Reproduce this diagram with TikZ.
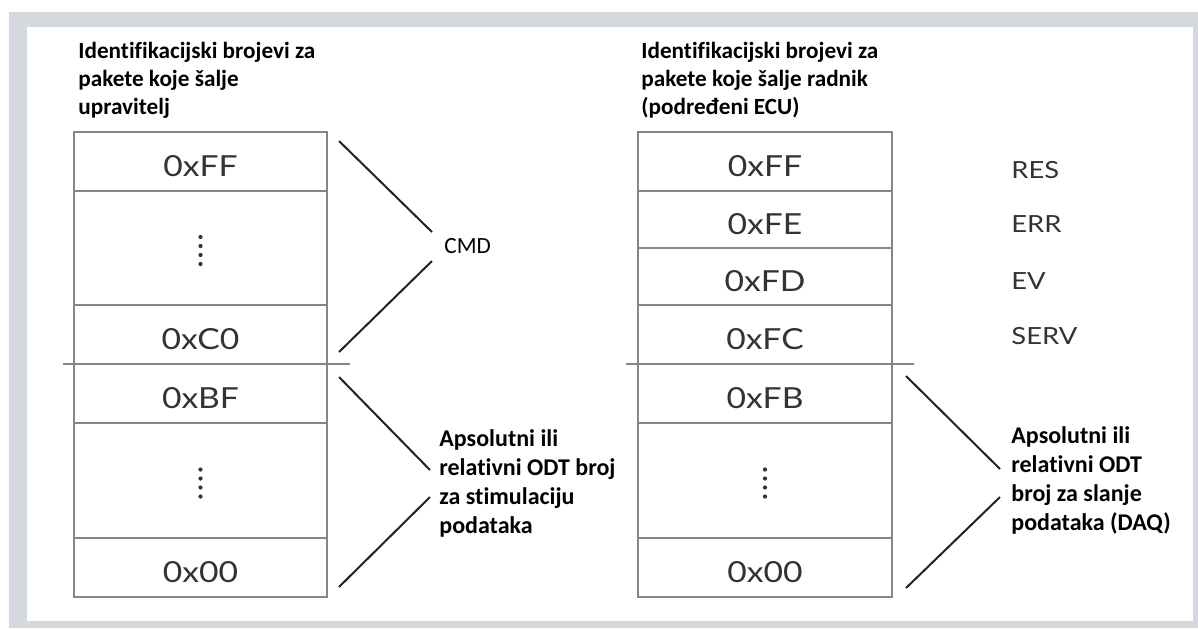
\documentclass[tikz,border=0pt]{standalone}
\usepackage{fontspec}
\setmainfont{Carlito}[Ligatures=NoCommon]
\newfontfamily\hexfont{Lato}[FakeStretch=1.16]
\definecolor{framegray}{HTML}{D5D9DF}
\definecolor{boxgray}{HTML}{80888D}
\definecolor{txtgray}{HTML}{333333}
\definecolor{linedark}{HTML}{222222}
\begin{document}
\begin{tikzpicture}[x=0.5pt,y=-0.5pt,
  cell/.style={draw=boxgray, line width=1.1pt, inner sep=0pt},
  lcell/.style={cell, minimum width=126.5pt},
  rcell/.style={cell, minimum width=127pt},
  hex/.style={inner sep=0pt, yshift=-2.2pt, text=txtgray, font=\hexfont\fontsize{14.5}{16}\selectfont},
  sepline/.style={draw=boxgray, line width=1.1pt},
  conn/.style={draw=linedark, line width=1pt},
  title/.style={anchor=west, align=left, inner sep=0pt, font=\bfseries\fontsize{11.6}{14}\selectfont},
  lbl/.style={anchor=west, align=left, inner sep=0pt, font=\bfseries\fontsize{12}{14.5}\selectfont},
  side/.style={anchor=west, inner sep=0pt, text=txtgray, font=\hexfont\fontsize{11.8}{14}\selectfont},
  dot/.style={fill=txtgray}]
\useasboundingbox (0,0) rectangle (1198,629);
\fill[white] (0,0) rectangle (1198,629);
\fill[framegray] (9,12) rectangle (1198,628);
\fill[white] (27,27) rectangle (1193,621);

% left column
\node[lcell, minimum height=29.5pt] (L1) at (200.5,161.5) {};
\node[lcell, minimum height=57pt]   (L2) at (200.5,248) {};
\node[lcell, minimum height=29.5pt] (L3) at (200.5,334.5) {};
\node[lcell, minimum height=29.5pt] (L4) at (200.5,393.5) {};
\node[lcell, minimum height=57.5pt] (L5) at (200.5,480.5) {};
\node[lcell, minimum height=29.5pt] (L6) at (200.5,567.5) {};
\node[hex] (L1t) at (L1.center) {0xFF};
\node[hex] (L3t) at (L3.center) {0xC0};
\node[hex] (L4t) at (L4.center) {0xBF};
\node[hex] (L6t) at (L6.center) {0x00};

% right column
\node[rcell, minimum height=29.5pt] (R1) at (765,161.5) {};
\node[rcell, minimum height=28.5pt] (R2) at (765,219.5) {};
\node[rcell, minimum height=28.5pt] (R3) at (765,276.5) {};
\node[rcell, minimum height=29.5pt] (R4) at (765,334.5) {};
\node[rcell, minimum height=29.5pt] (R5) at (765,393.5) {};
\node[rcell, minimum height=57.5pt] (R6) at (765,480.5) {};
\node[rcell, minimum height=29.5pt] (R7) at (765,567.5) {};
\node[hex] (R1t) at (R1.center) {0xFF};
\node[hex] (R2t) at (R2.center) {0xFE};
\node[hex] (R3t) at (R3.center) {0xFD};
\node[hex] (R4t) at (R4.center) {0xFC};
\node[hex] (R5t) at (R5.center) {0xFB};
\node[hex] (R7t) at (R7.center) {0x00};

% vertical ellipses
\foreach \d in {-11,-2,7,16} {
  \fill[dot] (L2.center) ++(0,\d) circle[radius=2.1];
  \fill[dot] (L5.center) ++(0,\d) circle[radius=2.1];
  \fill[dot] (R6.center) ++(0,\d) circle[radius=2.1];
}

% separators
\coordinate (sLa) at (63,364);
\coordinate (sLb) at (350,364);
\coordinate (sRa) at (626,364);
\coordinate (sRb) at (914,364);
\draw[sepline] (sLa) -- (sLb);
\draw[sepline] (sRa) -- (sRb);

% titles
\node[title] (tL) at (78,80) {Identifikacijski brojevi za\\pakete koje šalje\\upravitelj};
\node[title] (tR) at (641,80) {Identifikacijski brojevi za\\pakete koje šalje radnik\\(podređeni ECU)};

% CMD brace
\node[anchor=west, inner sep=0pt, font=\fontsize{11.6}{14}\selectfont] (cmd) at (444,246) {CMD};
\coordinate (c1a) at (339,141);
\coordinate (c1b) at (432,232);
\coordinate (c2a) at (432,261);
\coordinate (c2b) at (339,352);
\draw[conn] (c1a) -- (c1b);
\draw[conn] (c2a) -- (c2b);

% left lower brace
\node[lbl] (odtL) at (439,483) {Apsolutni ili\\relativni ODT broj\\za stimulaciju\\podataka};
\coordinate (d1a) at (339,377);
\coordinate (d1b) at (430,470);
\coordinate (d2a) at (430,497);
\coordinate (d2b) at (339,587);
\draw[conn] (d1a) -- (d1b);
\draw[conn] (d2a) -- (d2b);

% right lower brace
\node[lbl] (odtR) at (1011,480.5) {Apsolutni ili\\relativni ODT\\broj za slanje\\podataka (DAQ)};
\coordinate (e1a) at (906,376);
\coordinate (e1b) at (1000,469);
\coordinate (e2a) at (1000,497);
\coordinate (e2b) at (906,588);
\draw[conn] (e1a) -- (e1b);
\draw[conn] (e2a) -- (e2b);

% side labels
\node[side] (res) at (1011,170) {RES};
\node[side] (err) at (1011,224) {ERR};
\node[side] (ev) at (1011,281) {EV};
\node[side] (serv) at (1011,336) {SERV};
\end{tikzpicture}
\end{document}
